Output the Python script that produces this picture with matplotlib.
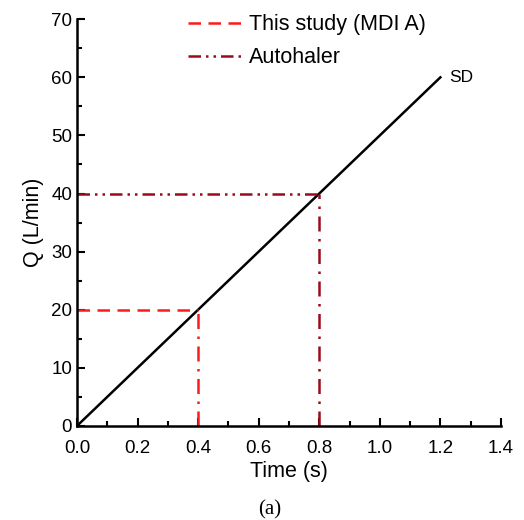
import matplotlib
matplotlib.use('Agg')
import matplotlib.pyplot as plt
from matplotlib.ticker import MultipleLocator

plt.rcParams['font.family'] = ['Liberation Sans', 'DejaVu Sans']

# SD line
sd_time = [0.0, 1.2]
sd_q = [0.0, 60.0]

# reference points
study_time = 0.4
study_q = 20
auto_time = 0.8
auto_q = 40

fig = plt.figure(figsize=(5.24, 5.2), dpi=100)
ax = fig.add_axes([0.147, 0.181, 0.809, 0.782])

ax.plot(sd_time, sd_q, color='black', lw=1.8)
ax.text(1.23, 60.0, 'SD', fontsize=12.5, ha='left', va='center')

red = '#ff1a1a'
dark = '#9b0a1a'
ax.plot([0, study_time], [study_q, study_q], color=red, lw=1.8,
        linestyle=(0, (5, 3)), label='This study (MDI A)')
ax.plot([study_time, study_time], [0, study_q], color=red, lw=1.8,
        linestyle=(0, (6, 3, 1, 3)))
ax.plot([0, auto_time], [auto_q, auto_q], color=dark, lw=1.8,
        linestyle=(0, (5, 2, 1, 2, 1, 2)), label='Autohaler')
ax.plot([auto_time, auto_time], [0, auto_q], color=dark, lw=1.8,
        linestyle=(0, (6, 3, 1, 3)))

ax.set_xlim(0, 1.4)
ax.set_ylim(0, 70)
ax.xaxis.set_major_locator(MultipleLocator(0.2))
ax.xaxis.set_minor_locator(MultipleLocator(0.1))
ax.yaxis.set_major_locator(MultipleLocator(10))
ax.yaxis.set_minor_locator(MultipleLocator(5))
ax.xaxis.set_major_formatter(plt.FormatStrFormatter('%.1f'))
ax.tick_params(which='both', direction='in', width=1.5, labelsize=13.5, colors='black')
ax.tick_params(which='major', length=6)
ax.tick_params(which='minor', length=3.5)
ax.tick_params(axis='x', pad=10)
ax.spines['top'].set_visible(False)
ax.spines['right'].set_visible(False)
ax.spines['left'].set_linewidth(1.8)
ax.spines['bottom'].set_linewidth(1.8)

ax.set_xlabel('Time (s)', fontsize=15.5, labelpad=3)
ax.set_ylabel('Q (L/min)', fontsize=15.5, labelpad=5)

ax.legend(loc='upper left', bbox_to_anchor=(0.215, 1.06), frameon=False,
          fontsize=15.5, handlelength=2.6, handletextpad=0.25, labelspacing=0.55)

fig.text(0.515, 0.01, '(a)', fontsize=15, family='Liberation Serif', ha='center')

fig.savefig('out.png', dpi=100)
